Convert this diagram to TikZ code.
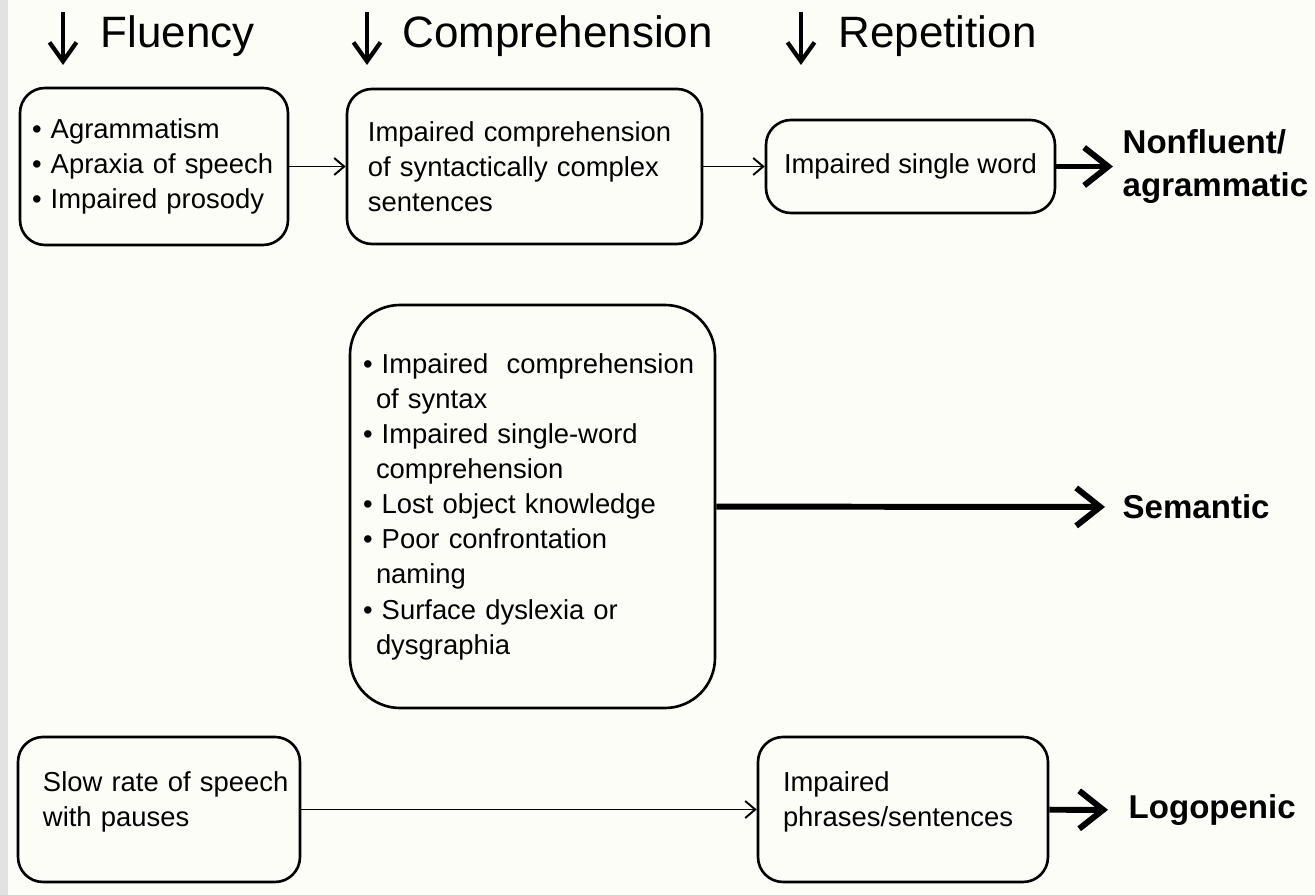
\documentclass[tikz,border=0pt]{standalone}
\usepackage{fontspec}
\setmainfont{Liberation Sans}
\usetikzlibrary{arrows.meta}
\definecolor{paper}{RGB}{253,253,248}
\definecolor{strip}{RGB}{226,226,226}

\begin{document}
\begin{tikzpicture}[
    box/.style={draw, line width=0.75pt, rounded corners=0.25cm, inner sep=0pt, align=left, font=\fontsize{7.8}{10}\selectfont},
    head/.style={anchor=base west, inner sep=0pt, font=\fontsize{12.5}{14}\selectfont},
    result/.style={anchor=west, inner sep=0pt, align=left, font=\fontsize{9.4}{12.2}\selectfont\bfseries},
    thinarr/.style={-{Straight Barb[length=1mm,width=1.7mm]}, line width=0.55pt},
    thickarr/.style={-{Straight Barb[length=2.4mm,width=3.8mm]}, line width=1.7pt},
    downarr/.style={-{Straight Barb[length=1.9mm,width=2.7mm]}, line width=1.2pt}
  ]
  \useasboundingbox (0,0) rectangle (13.15,-8.95);
  \fill[paper] (0,0) rectangle (13.15,-8.95);
  \fill[strip] (0,0) rectangle (0.08,-8.95);

  % column headings
  \coordinate (flutop) at (0.63,-0.12);
  \coordinate (flubot) at (0.63,-0.65);
  \coordinate (comptop) at (3.67,-0.12);
  \coordinate (compbot) at (3.67,-0.65);
  \coordinate (reptop) at (8.01,-0.12);
  \coordinate (repbot) at (8.01,-0.65);
  \draw[downarr] (flutop) -- (flubot);
  \draw[downarr] (comptop) -- (compbot);
  \draw[downarr] (reptop) -- (repbot);
  \node[head] (fluency) at (1.00,-0.48) {Fluency};
  \node[head] (comprehension) at (4.02,-0.48) {Comprehension};
  \node[head] (repetition) at (8.38,-0.48) {Repetition};

  % nonfluent row
  \node[box, minimum width=2.68cm, minimum height=1.57cm, text width=2.44cm] (nfflu) at (1.54,-1.665)
    {\textbullet\ Agrammatism\\ \textbullet\ Apraxia of speech\\ \textbullet\ Impaired prosody};
  \node[box, minimum width=3.55cm, minimum height=1.55cm, text width=3.13cm] (nfcomp) at (5.245,-1.665)
    {Impaired comprehension\\ of syntactically complex\\ sentences};
  \node[box, minimum width=2.89cm, minimum height=0.93cm, align=center] (nfrep) at (9.105,-1.665)
    {Impaired single word};
  \node[result] (nonfluent) at (11.22,-1.665) {Nonfluent/\\agrammatic};

  % semantic row
  \node[box, rounded corners=0.5cm, minimum width=3.65cm, minimum height=4.03cm, text width=3.39cm] (semcomp) at (5.325,-5.065)
    {\textbullet\ Impaired\ \ comprehension\\
     \hspace*{1.3mm}of syntax\\
     \textbullet\ Impaired single-word\\
     \hspace*{1.3mm}comprehension\\
     \textbullet\ Lost object knowledge\\
     \textbullet\ Poor confrontation\\
     \hspace*{1.3mm}naming\\
     \textbullet\ Surface dyslexia or\\
     \hspace*{1.3mm}dysgraphia};
  \node[result] (semantic) at (11.22,-5.07) {Semantic};

  % logopenic row
  \node[box, minimum width=2.82cm, minimum height=1.45cm, text width=2.60cm] (logflu) at (1.59,-8.095)
    {\hspace*{0.14cm}Slow rate of speech\\ \hspace*{0.14cm}with pauses\vspace*{0.16cm}};
  \node[box, minimum width=2.90cm, minimum height=1.45cm, text width=2.40cm] (logrep) at (9.03,-8.095)
    {Impaired\\ phrases/sentences\vspace*{0.16cm}};
  \node[result] (logopenic) at (11.28,-8.10) {Logopenic};

  \draw[thinarr] (nfflu) -- (nfcomp);
  \draw[thinarr] (nfcomp) -- (nfrep);
  \draw[thinarr] (logflu) -- (logrep);
  \draw[thickarr, shorten >=0.9mm] (nfrep) -- (nonfluent);
  \draw[thickarr, shorten >=1.7mm] (semcomp) -- (semantic);
  \draw[thickarr, shorten >=2mm] (logrep) -- (logopenic);
\end{tikzpicture}
\end{document}
